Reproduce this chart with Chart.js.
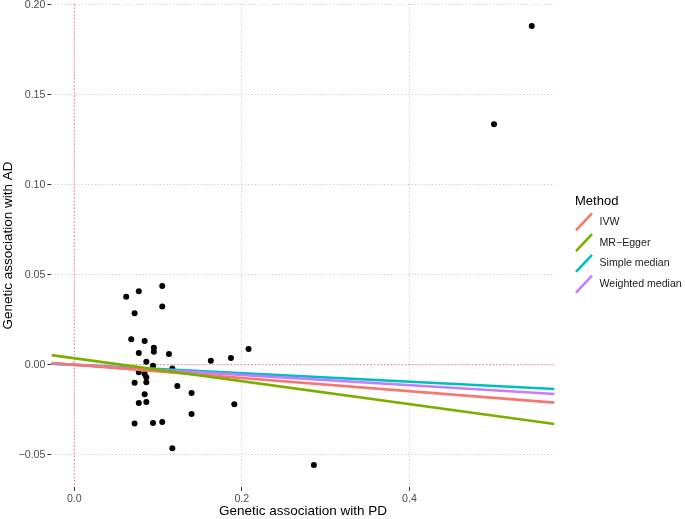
<!DOCTYPE html>
<html>
<head>
    <title>Genetic association PD vs AD</title>
    <meta charset="UTF-8">
    <style>
        body { margin: 0; background: #fff; }
        #wrap { width: 685px; height: 519px; }
    </style>
    <script src="https://cdn.jsdelivr.net/npm/chart.js@4.4.1/dist/chart.umd.min.js"></script>
</head>
<body>
    <div id="wrap"><canvas id="mr-chart" width="685" height="519"></canvas></div>

    <script>
        // SNP associations (x = PD, y = AD)
        const snpPD = [0.062, 0.077, 0.105, 0.105, 0.072, 0.068, 0.084, 0.095, 0.095, 0.077,
                       0.113, 0.086, 0.094, 0.117, 0.163, 0.187, 0.208, 0.077, 0.084, 0.086,
                       0.072, 0.086, 0.123, 0.140, 0.084, 0.077, 0.086, 0.140, 0.191, 0.072,
                       0.094, 0.105, 0.117, 0.286, 0.501, 0.546];
        const snpAD = [0.0378, 0.0408, 0.0437, 0.0324, 0.0286, 0.0141, 0.0132, 0.0094, 0.0072, 0.0065,
                       0.0059, 0.0017, -0.0006, -0.0021, 0.0022, 0.0037, 0.0087, -0.0042, -0.0052, -0.0070,
                       -0.0100, -0.0098, -0.0118, -0.0157, -0.0164, -0.0213, -0.0207, -0.0274, -0.0220, -0.0326,
                       -0.0324, -0.0318, -0.0464, -0.0557, 0.1336, 0.1883];

        // MR estimates, one per method
        const methods = ['IVW', 'MR\u2212Egger', 'Simple median', 'Weighted median'];
        const methodSlopes = [-0.0367, -0.0638, -0.0235, -0.0283];
        const methodIntercepts = [0, 0.0036, 0, 0];
        const methodColors = ['#F8766D', '#7CAE00', '#00BFC4', '#C77CFF'];
        const methodOrder = [1, 0, 3, 2];  // lower = drawn on top

        const xTicks = [0, 0.2, 0.4];
        const yTicks = [-0.05, 0, 0.05, 0.10, 0.15, 0.20];

        // ggplot style limits: data range (with the 0 reference lines) plus 5%
        function expand(vals) {
            const lo = Math.min(0, ...vals), hi = Math.max(0, ...vals);
            const pad = (hi - lo) * 0.05;
            return [lo - pad, hi + pad];
        }
        const [xMin, xMax] = expand(snpPD);
        const [yMin, yMax] = expand(snpAD);

        const fmt = (v, d) => (v < 0 ? '\u2212' : '') + Math.abs(v).toFixed(d);

        const datasets = [{
            type: 'scatter',
            data: snpPD.map((x, i) => ({ x: x, y: snpAD[i] })),
            backgroundColor: '#000',
            borderWidth: 0,
            pointRadius: 3,
            order: 4
        }];
        methods.forEach((m, i) => {
            datasets.push({
                type: 'line',
                label: m,
                data: [xMin, xMax].map(x => ({ x: x, y: methodIntercepts[i] + methodSlopes[i] * x })),
                borderColor: methodColors[i],
                borderWidth: 2.6,
                pointRadius: 0,
                order: methodOrder[i]
            });
        });

        // dashed red lines at x = 0 and y = 0
        const zeroLines = {
            id: 'zeroLines',
            beforeDatasetsDraw(chart) {
                const { ctx, chartArea: a, scales } = chart;
                const x0 = scales.x.getPixelForValue(0);
                const y0 = scales.y.getPixelForValue(0);
                ctx.save();
                ctx.strokeStyle = 'rgba(255, 40, 40, 0.45)';
                ctx.lineWidth = 1;
                ctx.setLineDash([2, 1.5]);
                ctx.beginPath();
                ctx.moveTo(x0, a.top); ctx.lineTo(x0, a.bottom);
                ctx.moveTo(a.left, y0); ctx.lineTo(a.right, y0);
                ctx.stroke();
                ctx.restore();
            }
        };

        // ggplot like legend with diagonal keys
        const methodLegend = {
            id: 'methodLegend',
            afterDraw(chart) {
                const ctx = chart.ctx;
                const left = 575, top = 201, step = 20.8;
                ctx.save();
                ctx.textBaseline = 'middle';
                ctx.fillStyle = '#000';
                ctx.font = '13px "Liberation Sans", Arial, sans-serif';
                ctx.fillText('Method', left, top);
                ctx.font = '10.6px "Liberation Sans", Arial, sans-serif';
                methods.forEach((m, i) => {
                    const cy = top + step * (i + 1);
                    ctx.strokeStyle = methodColors[i];
                    ctx.lineWidth = 2.6;
                    ctx.beginPath();
                    ctx.moveTo(left + 1, cy + 8.5);
                    ctx.lineTo(left + 17, cy - 8.5);
                    ctx.stroke();
                    ctx.fillStyle = '#1a1a1a';
                    ctx.fillText(m, left + 24.5, cy);
                });
                ctx.restore();
            }
        };

        const gridStyle = { color: '#c4c4c4', lineWidth: 1, tickColor: '#333', tickLength: 4, tickWidth: 1 };
        const tickFont = { family: '"Liberation Sans", Arial, sans-serif', size: 10.6 };
        const titleFont = { family: '"Liberation Sans", Arial, sans-serif', size: 13.5 };

        new Chart(document.getElementById('mr-chart'), {
            data: { datasets: datasets },
            options: {
                responsive: false,
                animation: false,
                layout: { padding: { left: 0, right: 130.4, top: 3.8, bottom: 0 } },
                plugins: { legend: { display: false }, tooltip: { enabled: false } },
                scales: {
                    x: {
                        type: 'linear',
                        min: xMin,
                        max: xMax,
                        afterBuildTicks: s => { s.ticks = xTicks.map(v => ({ value: v })); },
                        afterFit: s => { s.height = 32.1; s.paddingLeft = 0; s.paddingRight = 0; },
                        ticks: { color: '#4d4d4d', font: tickFont, padding: 2, maxRotation: 0,
                                 callback: v => fmt(v, 1) },
                        grid: gridStyle,
                        border: { display: false, dash: [1, 2.4] },
                        title: { display: true, text: 'Genetic association with PD', color: '#000',
                                 font: titleFont, padding: { top: 0, bottom: 0 } }
                    },
                    y: {
                        type: 'linear',
                        min: yMin,
                        max: yMax,
                        afterBuildTicks: s => { s.ticks = yTicks.map(v => ({ value: v })); },
                        afterFit: s => { s.width = 51.4; s.paddingTop = 0; s.paddingBottom = 0; },
                        ticks: { color: '#4d4d4d', font: tickFont, padding: 2,
                                 callback: v => fmt(v, 2) },
                        grid: gridStyle,
                        border: { display: false, dash: [1, 2.4] },
                        title: { display: true, text: 'Genetic association with AD', color: '#000',
                                 font: titleFont, padding: { top: 0, bottom: 0 } }
                    }
                }
            },
            plugins: [zeroLines, methodLegend]
        });
    </script>
</body>
</html>
